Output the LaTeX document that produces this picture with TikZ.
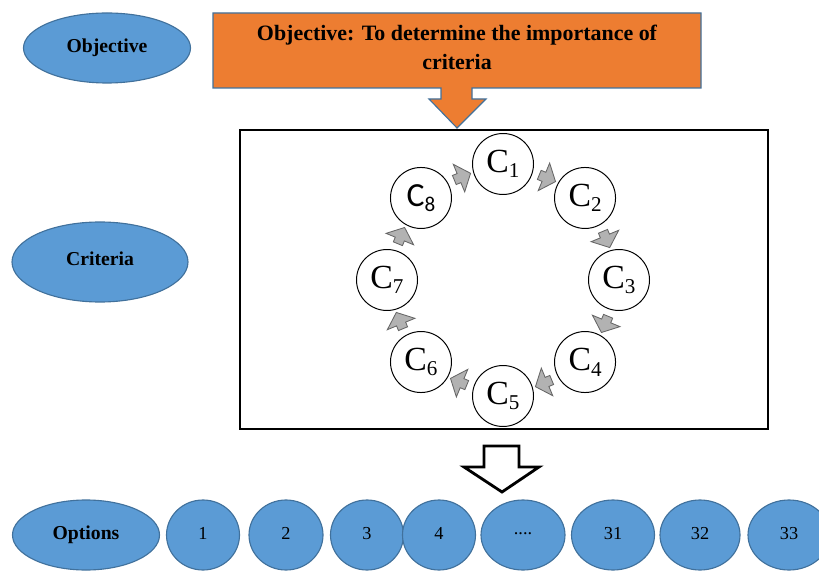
\documentclass[tikz,border=0pt]{standalone}
\usepackage{fontspec}
\setmainfont{Liberation Serif}
\newfontfamily\calibfont{Carlito}
\usetikzlibrary{calc,shapes.geometric,shapes.arrows}
\tikzset{>=latex}
\definecolor{ovalblue}{HTML}{5B9BD5}
\definecolor{ovalline}{HTML}{41719C}
\definecolor{bannerorange}{HTML}{ED7D31}
\colorlet{gaparrow}{black!30}
\def\u{0.025cm}
\def\etc{....}
\tikzstyle{oval}=[ellipse,draw=ovalline,fill=ovalblue,line width=0.8pt,inner sep=0pt,font=\fontsize{14}{16}\selectfont\bfseries]
\tikzstyle{option}=[ellipse,draw=ovalline,fill=ovalblue,line width=0.8pt,inner sep=0pt,minimum height=70*\u,font=\fontsize{13}{15}\selectfont]
\tikzstyle{crit}=[circle,draw,line width=0.7pt,fill=white,minimum size=61*\u,inner sep=0pt,font=\fontsize{24}{26}\selectfont]
\tikzstyle{turn}=[single arrow,draw=black!60,fill=gaparrow,line width=0.6pt,minimum height=12.5pt,minimum width=11pt,single arrow tip angle=100,inner sep=3.2pt]
\newcommand{\critlabel}[1]{C\raisebox{-4pt}{\fontsize{15}{15}\selectfont #1}}

\begin{document}
\begin{tikzpicture}[x=\u,y=\u]
  \useasboundingbox (0,0) rectangle (819,572);
  \def\R{116}  % ring radius
  \def\r{111}  % small arrows
  \coordinate (O) at (503,292);

  % LEFT LABELS
  \node[oval,minimum width=167*\u,minimum height=70*\u] (objective) at (107,524) {\raisebox{2pt}{Objective}};
  \node[oval,minimum width=176*\u,minimum height=80*\u] (criteria) at (100,310) {\raisebox{5pt}{Criteria}};
  \node[oval,minimum width=147*\u,minimum height=70*\u] (options) at (86,37) {\raisebox{2pt}{Options}};

  % BANNER
  \draw[fill=bannerorange,draw=ovalline,line width=0.8pt]
    (213,484) -- (213,559) -- (701,559) -- (701,484) -- (472,484) -- (472,473) -- (486,473)
    -- (457,444) coordinate (tip) -- (429,473) -- (441,473) -- (441,484) -- cycle;
  \node[align=center,font=\fontsize{15.6}{20.6}\selectfont\bfseries] (goal) at (457,525)
    {Objective: To determine the importance of\\criteria};

  % CRITERIA BOX
  \draw[line width=1.5pt] (240,143) rectangle (768,442);
  \foreach \i in {1,...,7}
    \node[crit] (c\i) at ($(O)+({90-45*(\i-1)}:\R)$) {\critlabel{\i}};
  \node[crit] (c8) at ($(O)+(135:\R)$) {\calibfont\critlabel{8}};
  \foreach \i in {1,...,8}
    \node[turn,rotate={-22.5-45*(\i-1)}] (a\i) at ($(O)+({67.5-45*(\i-1)}:\r)$) {};

  % DOWN ARROW
  \draw[line width=2pt,fill=white,line join=miter]
    (484,126) -- (519,126) -- (519,105) -- (539,105) -- (502,80) -- (464,105) -- (484,105) -- cycle;

  % OPTIONS
  \foreach \x/\w/\n/\t in {203/73/1/1,286/74/2/2,367/73/3/3,439/73/4/4,523/84/dots/\etc,613/83/31/31,700/80/32/32,789/82/33/33}
    \node[option,minimum width=\w*\u] (opt\n) at (\x,37) {\raisebox{2pt}{\t}};
\end{tikzpicture}
\end{document}
